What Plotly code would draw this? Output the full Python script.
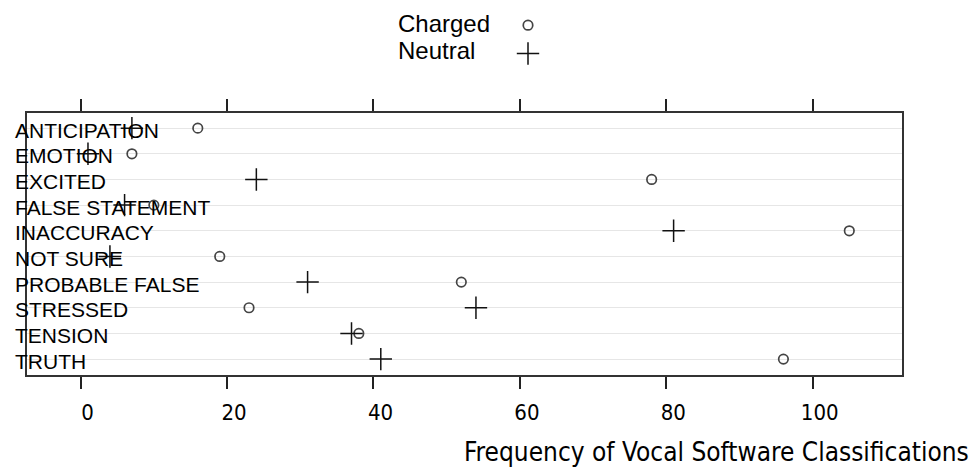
import plotly.graph_objects as go

# Classification categories, top to bottom
categories = [
    "ANTICIPATION", "EMOTION", "EXCITED", "FALSE STATEMENT", "INACCURACY",
    "NOT SURE", "PROBABLE FALSE", "STRESSED", "TENSION", "TRUTH",
]
# Frequency of each classification per speech condition
charged = [16, 7, 78, 10, 105, 19, 52, 23, 38, 96]
neutral = [7, 1, 24, 6, 81, 4, 31, 54, 37, 41]
series_names = ["Charged", "Neutral"]
x_ticks = [0, 20, 40, 60, 80, 100]
x_title = "Frequency of Vocal Software Classifications"

W, H = 977, 470
M_L, M_R, M_T, M_B = 27, 75, 113, 95
plot_w = W - M_L - M_R
plot_h = H - M_T - M_B

LABEL_FONT = "Liberation Sans, Arial, sans-serif"
NARROW_FONT = "Liberation Sans Narrow, DejaVu Sans Condensed, Arial Narrow, Liberation Sans, sans-serif"

fig = go.Figure()
fig.add_trace(go.Scatter(
    x=charged, y=categories, mode="markers", name=" ",
    marker=dict(symbol="circle-open", size=9.5, color="#444444",
                line=dict(width=1.7, color="#444444")),
    hovertemplate="%{y}: %{x}<extra>" + series_names[0] + "</extra>",
))
fig.add_trace(go.Scatter(
    x=neutral, y=categories, mode="markers", name=" ",
    marker=dict(symbol="cross-thin-open", size=16, color="#111111",
                line=dict(width=1.5, color="#111111")),
    hovertemplate="%{y}: %{x}<extra>" + series_names[1] + "</extra>",
))


def px_x(px):
    """Horizontal pixel position -> paper fraction."""
    return (px - M_L) / plot_w


def px_y(py):
    """Vertical pixel position (from top) -> paper fraction."""
    return (H - M_B - py) / plot_h


annotations = []
# Category labels sit just inside the left edge of the panel
for cat in categories:
    annotations.append(dict(
        x=px_x(13), xref="paper", xanchor="left",
        y=cat, yref="y", yanchor="middle", yshift=-2,
        text=cat, showarrow=False,
        font=dict(family=LABEL_FONT, size=21, color="#000000"),
    ))
# Key text, to the left of the legend symbols
for i, nm in enumerate(series_names):
    annotations.append(dict(
        x=px_x(396), xref="paper", xanchor="left",
        y=px_y(23 + 28 * i), yref="paper", yanchor="middle",
        text=nm, showarrow=False,
        font=dict(family=LABEL_FONT, size=24, color="#000000"),
    ))
# Axis title, kept inside the right edge of the page
annotations.append(dict(
    x=px_x(462), xref="paper", xanchor="left",
    y=px_y(452), yref="paper", yanchor="middle",
    text=x_title, showarrow=False,
    font=dict(family=NARROW_FONT, size=26, color="#000000"),
))

fig.update_layout(
    width=W, height=H,
    margin=dict(l=M_L, r=M_R, t=M_T, b=M_B, pad=0, autoexpand=False),
    paper_bgcolor="white", plot_bgcolor="white",
    showlegend=True,
    legend=dict(
        x=(527 - 19) / W, xref="container", xanchor="left",
        y=1 - 6 / H, yref="container", yanchor="top",
        font=dict(family=LABEL_FONT, size=19.5, color="#000000"),
        bgcolor="rgba(0,0,0,0)", borderwidth=0, tracegroupgap=0,
        itemsizing="trace",
    ),
    annotations=annotations,
    hovermode="closest",
)

fig.update_xaxes(
    range=[-7.33, 112.2],
    tickmode="array", tickvals=x_ticks, ticktext=[str(v) for v in x_ticks],
    ticks="outside", ticklen=12, tickwidth=1.5, tickcolor="#222222",
    showline=True, linecolor="#333333", linewidth=1.5, mirror="ticks",
    showgrid=False, zeroline=False,
    tickfont=dict(family=NARROW_FONT, size=22, color="#000000"),
    ticklabelshift=7, ticklabelstandoff=5,
)
fig.update_yaxes(
    type="category", categoryorder="array", categoryarray=categories,
    range=[9.62, -0.59],
    showticklabels=False, ticks="",
    showline=True, linecolor="#333333", linewidth=1.5, mirror=True,
    showgrid=True, gridcolor="#e6e6e6", gridwidth=1.2, zeroline=False,
)

fig.write_html("out.html")
